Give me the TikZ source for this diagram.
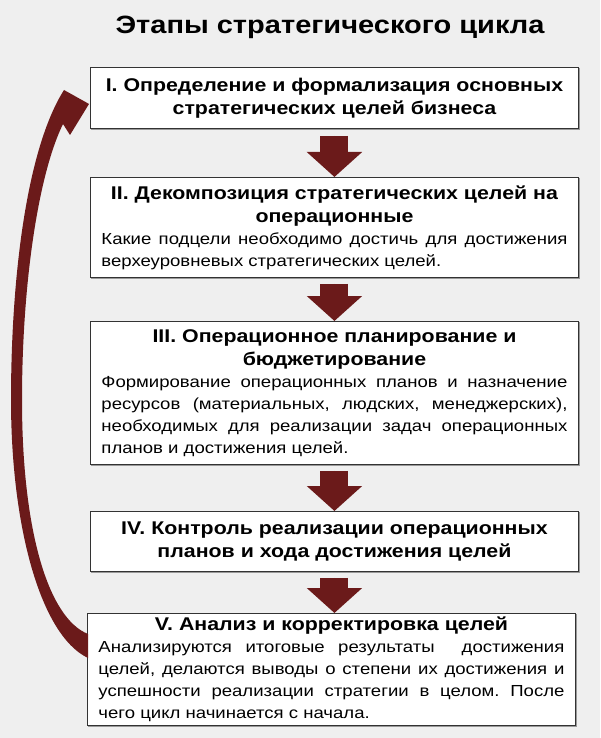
\documentclass[tikz,border=0pt]{standalone}
\usepackage{fontspec}
\setmainfont{Liberation Sans}
\newfontfamily\stagefont{Liberation Sans}[FakeStretch=1.16]
\usepackage{tikz}
\usetikzlibrary{calc}
\usetikzlibrary{arrows.meta}
\definecolor{pagegray}{HTML}{EFEFEF}
\definecolor{arrowred}{HTML}{6B1A1A}
\hbadness=10000
\frenchspacing
\newcommand\stagehead[1]{{\centering\bfseries\fontsize{18.4}{23}\selectfont #1\par}}

\begin{document}
\begin{tikzpicture}[x=1pt,y=-1pt,
    stage/.style={draw=black!80,line width=0.9pt,fill=white,anchor=north west,
      minimum width=488pt,text width=466pt,inner xsep=11pt,inner ysep=0pt,
      align=justify,font=\stagefont\fontsize{16}{22}\selectfont,
      preaction={draw=black!40,line width=1.4pt,transform canvas={xshift=1pt,yshift=-1pt}}},
    flowarrow/.style={draw=arrowred,fill=arrowred,line width=28pt,-{Triangle[width=54pt,length=25pt]}}]
    \fill[pagegray] (0,0) rectangle (600,738);
    \useasboundingbox (0,0) rectangle (600,738);
    \node[font=\stagefont\bfseries\fontsize{25}{30}\selectfont] (title) at (330,27) {Этапы стратегического цикла};
    \node[stage,minimum height=61pt] (b1) at (90,67) {\stagehead{I. Определение и формализация основных\\ стратегических целей бизнеса}};
    \node[stage,minimum height=100pt] (b2) at (90,177) {\stagehead{II. Декомпозиция стратегических целей на\\ операционные}Какие подцели необходимо достичь для достижения\linebreak верхеуровневых стратегических целей.};
    \node[stage,minimum height=143pt] (b3) at (90,321) {\stagehead{III. Операционное планирование и\\ бюджетирование}Формирование операционных планов и назначение\linebreak ресурсов (материальных, людских, менеджерских),\linebreak необходимых для реализации задач операционных\linebreak планов и достижения целей.};
    \node[stage,minimum height=60pt] (b4) at (90,511) {\stagehead{IV. Контроль реализации операционных\\ планов и хода достижения целей}};
    \node[stage,minimum height=112pt] (b5) at (87,613) {\stagehead{V. Анализ и корректировка целей}Анализируются итоговые результаты\ \ достижения\linebreak целей, делаются выводы о степени их достижения и\linebreak успешности реализации стратегии в целом. После\linebreak чего цикл начинается с начала.};
    \draw[flowarrow] ([yshift=-7pt]b1.south) -- (b2.north);
    \draw[flowarrow] ([yshift=-6pt]b2.south) -- (b3.north);
    \draw[flowarrow] ([yshift=-6pt]b3.south) -- (b4.north);
    \draw[flowarrow] ([yshift=-6pt]b4.south) -- (b4.south |- b5.north);
    \fill[arrowred] ($(b5.north west)+(1,21)$) .. controls (48,618) and (22,530) .. (22,400)
      .. controls (22,285) and (38,175) .. (63,124) -- (70,135) -- ($(b1.west)+(-1,6)$) -- (64,90)
      .. controls (26,150) and (11,280) .. (11,400) .. controls (11,525) and (40,635) .. ($(b5.north west)+(1,45)$) -- cycle;
  \end{tikzpicture}
\end{document}
